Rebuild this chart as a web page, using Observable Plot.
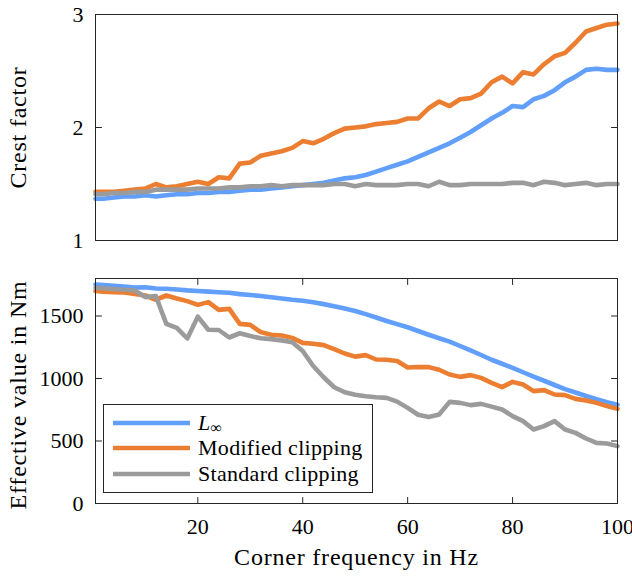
<!DOCTYPE html>
<html>
<head>
<meta charset="utf-8">
<script src="https://cdn.jsdelivr.net/npm/d3@7"></script>
<script src="https://cdn.jsdelivr.net/npm/@observablehq/plot@0.6"></script>
<style>
  body { margin: 0; background: #fff; }
  #wrap { position: relative; width: 632px; height: 576px; font-family: "Liberation Serif", "Times New Roman", serif; color: #000; }
  #wrap svg { display: block; font-family: "Liberation Serif", "Times New Roman", serif; }
  #wrap svg text { font-family: "Liberation Serif", "Times New Roman", serif; }
  #wrap g[aria-label="text"] { letter-spacing: 0.8px; }
  #legend { position: absolute; left: 103px; top: 404px; width: 270px; height: 89px; box-sizing: border-box;
            border: 1px solid #262626; background: #fff; }
  .row { position: absolute; left: 8px; height: 24px; display: flex; align-items: center; font-size: 22px; letter-spacing: 0.3px; white-space: nowrap; line-height: 22px; }
  .row svg { margin-right: 7px; }
</style>
</head>
<body>
<div id="wrap"></div>
<script>
// ---------------- data ----------------
const freq = [0.5, 2, 4, 6, 8, 10, 12, 14, 16, 18, 20, 22, 24, 26, 28, 30, 32, 34, 36, 38, 40,
  42, 44, 46, 48, 50, 52, 54, 56, 58, 60, 62, 64, 66, 68, 70, 72, 74, 76, 78, 80,
  82, 84, 86, 88, 90, 92, 94, 96, 98, 100];

const seriesNames = ["L∞", "Modified clipping", "Standard clipping"];
const seriesColors = ["#619ffb", "#eb7e31", "#9b9b9b"];

// Crest factor (top panel)
const crestLinf = [1.37,1.37,1.38,1.39,1.39,1.40,1.39,1.40,1.41,1.41,1.42,1.42,1.43,1.43,1.44,1.45,1.45,1.46,1.47,1.48,
  1.49,1.50,1.51,1.53,1.55,1.56,1.58,1.61,1.64,1.67,1.70,1.74,1.78,1.82,1.86,1.91,1.96,2.02,2.08,2.13,
  2.19,2.18,2.25,2.28,2.33,2.40,2.45,2.51,2.52,2.51,2.51];
const crestMod = [1.43,1.43,1.43,1.44,1.45,1.46,1.50,1.47,1.48,1.50,1.52,1.50,1.56,1.55,1.68,1.69,1.75,1.77,1.79,1.82,
  1.88,1.86,1.90,1.95,1.99,2.00,2.01,2.03,2.04,2.05,2.08,2.08,2.17,2.23,2.19,2.25,2.26,2.30,2.40,2.45,
  2.39,2.49,2.47,2.56,2.63,2.66,2.75,2.85,2.88,2.91,2.92];
const crestStd = [1.41,1.41,1.42,1.42,1.43,1.43,1.45,1.45,1.45,1.45,1.46,1.46,1.46,1.47,1.47,1.48,1.48,1.49,1.48,1.49,
  1.49,1.49,1.49,1.50,1.50,1.48,1.50,1.49,1.49,1.49,1.50,1.50,1.48,1.52,1.49,1.49,1.50,1.50,1.50,1.50,
  1.51,1.51,1.49,1.52,1.51,1.49,1.50,1.51,1.49,1.50,1.50];

// Effective value in Nm (bottom panel)
const effLinf = [1752,1748,1742,1735,1728,1730,1720,1718,1712,1705,1700,1695,1690,1686,1675,1668,1660,1650,1640,1630,
  1622,1610,1595,1578,1560,1540,1515,1488,1460,1435,1410,1380,1350,1322,1295,1260,1225,1188,1150,1118,
  1085,1050,1015,982,948,915,888,860,835,810,790];
const effMod = [1700,1695,1690,1688,1677,1664,1630,1664,1640,1619,1589,1611,1549,1557,1437,1429,1371,1350,1344,1325,
  1285,1278,1267,1235,1200,1175,1187,1152,1150,1140,1088,1092,1091,1070,1032,1013,1027,1005,965,931,
  973,952,899,907,872,867,837,824,805,779,757];
const effStd = [1725,1722,1715,1710,1704,1651,1660,1437,1405,1320,1495,1390,1388,1328,1362,1340,1322,1315,1305,1290,
  1220,1100,1010,930,890,870,858,850,845,815,765,710,692,712,813,805,787,797,775,752,
  699,659,592,619,659,592,565,520,485,480,459];

const crestTicks = [1, 2, 3];
const effTicks = [0, 500, 1000, 1500];
const freqTicks = [20, 40, 60, 80, 100];

// ---------------- helpers ----------------
function toRows(arrs) {
  return arrs.flatMap((a, i) => a.map((v, j) => ({f: freq[j], v, s: seriesNames[i]})));
}
const ink = "#262626";
const serif = '"Liberation Serif", "Times New Roman", serif';
const tickShape = {draw(ctx, l) { ctx.moveTo(0, 0); ctx.lineTo(0, -l); }};
function inTicks(values, dim, anchor, rot) {
  return Plot.vector(values, {[dim]: d => d, frameAnchor: anchor, length: 6, rotate: rot,
    anchor: "start", shape: tickShape, stroke: ink, strokeWidth: 1});
}
const fmt = d => String(d);
const common = {
  width: 632, marginLeft: 95, marginRight: 15,
  style: {fontFamily: serif, fontSize: "22px", color: "#000", background: "#fff"},
  color: {domain: seriesNames, range: seriesColors}
};

// ---------------- top panel ----------------
const topPanel = Plot.plot({
  ...common,
  height: 260, marginTop: 14, marginBottom: 20,
  x: {domain: [0.5, 100], axis: null},
  y: {domain: [1, 3]},
  marks: [
    Plot.line(toRows([crestLinf, crestMod, crestStd]), {x: "f", y: "v", z: "s", stroke: "s", strokeWidth: 4.6, strokeLinejoin: "round"}),
    Plot.frame({stroke: ink, strokeWidth: 1}),
    inTicks(crestTicks, "y", "left", 90),
    inTicks(crestTicks, "y", "right", -90),
    Plot.axisY(crestTicks, {anchor: "left", tickSize: 0, tickPadding: 12, tickFormat: fmt, label: null, fontSize: 22, fill: "#000"}),
    Plot.text(["Crest factor"], {text: d => d, frameAnchor: "left", dx: -77, rotate: -90, fontSize: 24, fill: "#000", textAnchor: "middle", lineAnchor: "middle"})
  ]
});

// ---------------- bottom panel ----------------
const bottomPanel = Plot.plot({
  ...common,
  height: 316, marginTop: 18, marginBottom: 73,
  x: {domain: [0.5, 100]},
  y: {domain: [0, 1800]},
  marks: [
    Plot.line(toRows([effLinf, effMod, effStd]), {x: "f", y: "v", z: "s", stroke: "s", strokeWidth: 4.6, strokeLinejoin: "round"}),
    Plot.frame({stroke: ink, strokeWidth: 1}),
    inTicks(effTicks, "y", "left", 90),
    inTicks(effTicks, "y", "right", -90),
    inTicks(freqTicks, "x", "bottom", 0),
    inTicks(freqTicks, "x", "top", 180),
    Plot.axisY(effTicks, {anchor: "left", tickSize: 0, tickPadding: 12, tickFormat: fmt, label: null, fontSize: 22, fill: "#000"}),
    Plot.axisX(freqTicks, {anchor: "bottom", tickSize: 0, tickPadding: 15, tickFormat: fmt, label: null, fontSize: 22, fill: "#000"}),
    Plot.text(["Effective value in Nm"], {text: d => d, frameAnchor: "left", dx: -77, dy: 4, rotate: -90, fontSize: 24, fill: "#000", textAnchor: "middle", lineAnchor: "middle"}),
    Plot.text(["Corner frequency in Hz"], {text: d => d, frameAnchor: "bottom", dy: 54, fontSize: 24, fill: "#000", textAnchor: "middle", lineAnchor: "middle"})
  ]
});

const wrap = document.getElementById("wrap");
wrap.appendChild(topPanel);
wrap.appendChild(bottomPanel);

// ---------------- legend ----------------
const legend = document.createElement("div");
legend.id = "legend";
const rowTops = [6, 31, 57];
seriesNames.forEach((name, i) => {
  const row = document.createElement("div");
  row.className = "row";
  row.style.top = rowTops[i] + "px";
  const sw = d3.create("svg").attr("width", 79).attr("height", 8);
  sw.append("line").attr("x1", 1).attr("x2", 78).attr("y1", 4).attr("y2", 4)
    .attr("stroke", seriesColors[i]).attr("stroke-width", 4.6);
  row.appendChild(sw.node());
  const label = document.createElement("span");
  if (i === 0) {
    label.innerHTML = '<i>L</i><span style="font-size:16px;line-height:14px;position:relative;top:3px">∞</span>';
  } else {
    label.textContent = name;
  }
  row.appendChild(label);
  legend.appendChild(row);
});
wrap.appendChild(legend);
</script>
</body>
</html>
